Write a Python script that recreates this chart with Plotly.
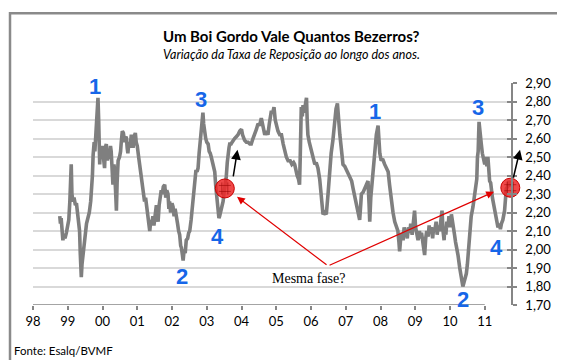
import plotly.graph_objects as go

# ---------------- data ----------------
anos = [
    1998.77, 1998.79, 1998.81, 1998.84, 1998.86, 1998.89, 1998.92, 1998.96, 1999.00, 1999.03,
    1999.06, 1999.08, 1999.10, 1999.12, 1999.15, 1999.18, 1999.22, 1999.25, 1999.28, 1999.31,
    1999.34, 1999.36, 1999.39, 1999.41, 1999.44, 1999.47, 1999.51, 1999.54, 1999.58, 1999.62,
    1999.66, 1999.68, 1999.71, 1999.73, 1999.76, 1999.78, 1999.81, 1999.84, 1999.87, 1999.89,
    1999.92, 1999.94, 1999.97, 1999.99, 2000.02, 2000.06, 2000.08, 2000.11, 2000.14, 2000.16,
    2000.20, 2000.23, 2000.25, 2000.28, 2000.30, 2000.33, 2000.35, 2000.38, 2000.40, 2000.42,
    2000.45, 2000.49, 2000.52, 2000.54, 2000.57, 2000.60, 2000.64, 2000.67, 2000.69, 2000.71,
    2000.73, 2000.76, 2000.79, 2000.83, 2000.86, 2000.88, 2000.91, 2000.945, 2000.97, 2001.00,
    2001.04, 2001.08, 2001.12, 2001.15, 2001.18, 2001.21, 2001.24, 2001.27, 2001.31, 2001.34,
    2001.36, 2001.39, 2001.42, 2001.45, 2001.48, 2001.51, 2001.55, 2001.58, 2001.60, 2001.63,
    2001.66, 2001.69, 2001.72, 2001.75, 2001.79, 2001.82, 2001.85, 2001.885, 2001.91, 2001.93,
    2001.96, 2002.00, 2002.03, 2002.06, 2002.09, 2002.125, 2002.16, 2002.19, 2002.22, 2002.25,
    2002.27, 2002.30, 2002.32, 2002.35, 2002.38, 2002.41, 2002.45, 2002.48, 2002.51, 2002.55,
    2002.58, 2002.60, 2002.63, 2002.65, 2002.69, 2002.72, 2002.75, 2002.78, 2002.80, 2002.83,
    2002.86, 2002.89, 2002.91, 2002.94, 2002.97, 2003.00, 2003.04, 2003.07, 2003.10, 2003.13,
    2003.17, 2003.20, 2003.23, 2003.26, 2003.28, 2003.30, 2003.32, 2003.35, 2003.37, 2003.40,
    2003.43, 2003.47, 2003.50, 2003.53, 2003.56, 2003.59, 2003.61, 2003.64, 2003.66, 2003.70,
    2003.73, 2003.755, 2003.80, 2003.85, 2003.90, 2003.95, 2004.00, 2004.03, 2004.06, 2004.09,
    2004.14, 2004.19, 2004.24, 2004.28, 2004.33, 2004.38, 2004.43, 2004.475, 2004.52, 2004.57,
    2004.60, 2004.64, 2004.67, 2004.72, 2004.76, 2004.80, 2004.86, 2004.90, 2004.935, 2004.97,
    2005.00, 2005.05, 2005.10, 2005.15, 2005.20, 2005.24, 2005.29, 2005.34, 2005.40, 2005.45,
    2005.50, 2005.53, 2005.57, 2005.60, 2005.64, 2005.67, 2005.69, 2005.70, 2005.72, 2005.75,
    2005.77, 2005.80, 2005.84, 2005.87, 2005.89, 2005.91, 2005.95, 2006.01, 2006.06, 2006.11,
    2006.15, 2006.20, 2006.25, 2006.30, 2006.33, 2006.345, 2006.39, 2006.44, 2006.49, 2006.54,
    2006.58, 2006.63, 2006.68, 2006.72, 2006.76, 2006.79, 2006.83, 2006.87, 2006.92, 2006.97,
    2007.02, 2007.07, 2007.12, 2007.17, 2007.21, 2007.26, 2007.31, 2007.36, 2007.40, 2007.43,
    2007.45, 2007.50, 2007.55, 2007.60, 2007.64, 2007.67, 2007.69, 2007.72, 2007.75, 2007.78,
    2007.82, 2007.86, 2007.88, 2007.93, 2007.95, 2007.98, 2008.02, 2008.06, 2008.12, 2008.17,
    2008.22, 2008.26, 2008.31, 2008.36, 2008.41, 2008.46, 2008.50, 2008.53, 2008.55, 2008.58,
    2008.62, 2008.65, 2008.68, 2008.71, 2008.74, 2008.77, 2008.80, 2008.84, 2008.87, 2008.91,
    2008.94, 2008.98, 2009.01, 2009.04, 2009.08, 2009.12, 2009.15, 2009.18, 2009.22, 2009.25,
    2009.27, 2009.30, 2009.33, 2009.37, 2009.40, 2009.43, 2009.46, 2009.50, 2009.53, 2009.56,
    2009.60, 2009.63, 2009.66, 2009.70, 2009.73, 2009.77, 2009.80, 2009.83, 2009.85, 2009.88,
    2009.91, 2009.94, 2009.97, 2010.00, 2010.04, 2010.07, 2010.10, 2010.13, 2010.16, 2010.20,
    2010.23, 2010.28, 2010.32, 2010.35, 2010.37, 2010.40, 2010.43, 2010.47, 2010.50, 2010.52,
    2010.55, 2010.57, 2010.61, 2010.66, 2010.71, 2010.74, 2010.77, 2010.79, 2010.81, 2010.835,
    2010.86, 2010.88, 2010.90, 2010.93, 2010.96, 2011.00, 2011.03, 2011.06, 2011.09, 2011.12,
    2011.14, 2011.17, 2011.19, 2011.22, 2011.26, 2011.29, 2011.33, 2011.38, 2011.42, 2011.45,
    2011.48, 2011.52, 2011.57, 2011.60, 2011.62, 2011.66, 2011.69, 2011.72, 2011.75,
]
taxa = [
    2.18, 2.14, 2.17, 2.10, 2.05, 2.08, 2.06, 2.09, 2.12, 2.16,
    2.26, 2.40, 2.46, 2.30, 2.26, 2.28, 2.24, 2.25, 2.20, 2.14,
    2.10, 1.98, 1.85, 1.92, 1.98, 2.02, 2.08, 2.14, 2.17, 2.20,
    2.26, 2.30, 2.40, 2.51, 2.58, 2.53, 2.62, 2.70, 2.82, 2.70,
    2.46, 2.56, 2.50, 2.56, 2.48, 2.44, 2.55, 2.57, 2.48, 2.53,
    2.49, 2.56, 2.53, 2.42, 2.35, 2.46, 2.42, 2.30, 2.21, 2.36,
    2.48, 2.50, 2.53, 2.58, 2.64, 2.63, 2.58, 2.61, 2.60, 2.55,
    2.52, 2.58, 2.55, 2.62, 2.58, 2.55, 2.61, 2.63, 2.58, 2.56,
    2.50, 2.45, 2.39, 2.34, 2.30, 2.26, 2.28, 2.22, 2.19, 2.13,
    2.10, 2.16, 2.14, 2.18, 2.13, 2.19, 2.24, 2.20, 2.15, 2.24,
    2.28, 2.32, 2.30, 2.34, 2.35, 2.28, 2.32, 2.30, 2.22, 2.26,
    2.20, 2.25, 2.23, 2.18, 2.22, 2.19, 2.14, 2.10, 2.08, 2.02,
    2.01, 1.97, 1.94, 2.00, 1.98, 2.05, 2.06, 2.09, 2.10, 2.16,
    2.22, 2.26, 2.36, 2.40, 2.43, 2.42, 2.44, 2.52, 2.60, 2.62,
    2.68, 2.74, 2.68, 2.62, 2.60, 2.58, 2.57, 2.53, 2.52, 2.50,
    2.46, 2.44, 2.42, 2.34, 2.30, 2.24, 2.19, 2.17, 2.18, 2.20,
    2.23, 2.26, 2.31, 2.35, 2.39, 2.47, 2.53, 2.55, 2.57, 2.57,
    2.58, 2.59, 2.60, 2.61, 2.62, 2.64, 2.65, 2.62, 2.60, 2.59,
    2.58, 2.58, 2.57, 2.57, 2.60, 2.62, 2.65, 2.68, 2.67, 2.71,
    2.68, 2.63, 2.62, 2.64, 2.62, 2.68, 2.75, 2.74, 2.77, 2.70,
    2.67, 2.64, 2.62, 2.62, 2.57, 2.53, 2.50, 2.48, 2.48, 2.46,
    2.47, 2.46, 2.42, 2.40, 2.38, 2.35, 2.50, 2.68, 2.77, 2.72,
    2.78, 2.74, 2.80, 2.82, 2.70, 2.62, 2.58, 2.53, 2.50, 2.46,
    2.47, 2.44, 2.38, 2.30, 2.22, 2.19, 2.20, 2.19, 2.30, 2.44,
    2.52, 2.59, 2.71, 2.76, 2.79, 2.70, 2.62, 2.55, 2.46, 2.45,
    2.43, 2.41, 2.40, 2.37, 2.33, 2.28, 2.23, 2.19, 2.16, 2.24,
    2.30, 2.31, 2.33, 2.35, 2.37, 2.25, 2.15, 2.28, 2.35, 2.41,
    2.48, 2.58, 2.62, 2.67, 2.58, 2.52, 2.48, 2.49, 2.46, 2.44,
    2.42, 2.35, 2.26, 2.20, 2.15, 2.12, 2.10, 2.04, 1.99, 2.06,
    2.09, 2.05, 2.12, 2.08, 2.10, 2.06, 2.12, 2.09, 2.14, 2.08,
    2.15, 2.21, 2.12, 2.08, 2.05, 2.10, 2.06, 2.09, 2.02, 1.99,
    1.97, 2.06, 2.10, 2.07, 2.13, 2.09, 2.12, 2.06, 2.12, 2.10,
    2.15, 2.08, 2.13, 2.10, 2.16, 2.21, 2.10, 2.05, 2.12, 2.08,
    2.15, 2.12, 2.18, 2.12, 2.19, 2.14, 2.12, 2.08, 2.04, 2.01,
    1.97, 1.90, 1.85, 1.82, 1.80, 1.82, 1.84, 1.87, 1.92, 1.97,
    2.05, 2.12, 2.18, 2.23, 2.30, 2.31, 2.38, 2.50, 2.53, 2.69,
    2.62, 2.58, 2.57, 2.52, 2.50, 2.46, 2.50, 2.45, 2.50, 2.42,
    2.37, 2.36, 2.30, 2.28, 2.24, 2.21, 2.16, 2.12, 2.14, 2.11,
    2.14, 2.16, 2.21, 2.28, 2.33, 2.34, 2.37, 2.36, 2.34,
]

# x-axis ticks (years) and labels
anos_ticks = list(range(1998, 2012))
rotulos_x = ["98", "99", "00", "01", "02", "03", "04", "05", "06", "07", "08", "09", "10", "11"]

# y-axis ticks and labels
valores_y = [1.70, 1.80, 1.90, 2.00, 2.10, 2.20, 2.30, 2.40, 2.50, 2.60, 2.70, 2.80, 2.90]
rotulos_y = ["1,70", "1,80", "1,90", "2,00", "2,10", "2,20", "2,30", "2,40", "2,50", "2,60", "2,70", "2,80", "2,90"]

# highlighted points ("Mesma fase?")
fase_x = [2003.52, 2011.735]
fase_y = [2.33, 2.334]

# cycle phase labels
fase_rotulos = ["1", "3", "4", "2", "1", "3", "4", "2"]
fase_rot_x = [1999.78, 2002.84, 2003.32, 2002.29, 2007.85, 2010.81, 2011.33, 2010.37]
fase_rot_y = [2.882, 2.810, 2.073, 1.852, 2.747, 2.769, 2.010, 1.731]

X0, X1 = 1998.0, 2011.755
Y0, Y1 = 1.70, 2.90

GRID = "#D9D9D9"
AXC = "#868686"
BLUE = "#1666E8"
FONT = "Lato"

fig = go.Figure()

fig.add_trace(go.Scatter(
    x=anos, y=taxa, mode="lines",
    line=dict(color="#7F7F7F", width=3.6),
    showlegend=False, hoverinfo="skip",
))

fig.add_trace(go.Scatter(
    x=fase_x, y=fase_y, mode="markers", cliponaxis=False,
    marker=dict(symbol="circle", size=19, color="rgba(236,40,40,0.85)",
                line=dict(color="#C80000", width=1)),
    showlegend=False, hoverinfo="skip",
))
fig.add_trace(go.Scatter(
    x=fase_x, y=fase_y, mode="markers", cliponaxis=False,
    marker=dict(symbol="hash-open", size=12, color="rgba(150,0,0,0.55)",
                line=dict(color="rgba(150,0,0,0.55)", width=1)),
    showlegend=False, hoverinfo="skip",
))
# invisible trace for the crossing ticks on the right axis
fig.add_trace(go.Scatter(x=[None], y=[None], yaxis="y2", showlegend=False, hoverinfo="skip"))


def px(x):
    return (x - X0) / (X1 - X0)


def py(y):
    return (y - Y0) / (Y1 - Y0)


annotations = []
# title / subtitle / source
annotations.append(dict(text="<b>Um Boi Gordo Vale Quantos Bezerros?</b>", xref="paper", yref="paper",
                        x=0.54, y=1.211, showarrow=False, xanchor="center", yanchor="middle",
                        font=dict(family=FONT, size=15, color="#000000")))
annotations.append(dict(text="<i>Variação da Taxa de Reposição ao longo dos anos.</i>", xref="paper", yref="paper",
                        x=0.54, y=1.128, showarrow=False, xanchor="center", yanchor="middle",
                        font=dict(family=FONT, size=12.5, color="#000000")))
annotations.append(dict(text="Fonte: Esalq/BVMF", xref="paper", yref="paper",
                        x=-0.044, y=-0.205, showarrow=False, xanchor="left", yanchor="middle",
                        font=dict(family=FONT, size=11.5, color="#000000")))

for t, xx, yy in zip(fase_rotulos, fase_rot_x, fase_rot_y):
    annotations.append(dict(text="<b>" + t + "</b>", x=xx, y=yy, xref="x", yref="y",
                            showarrow=False, xanchor="center", yanchor="middle",
                            font=dict(family="Liberation Sans", size=22, color=BLUE)))

# "Mesma fase?" label and red arrows
vert_x, vert_y = 2006.49, 1.911
annotations.append(dict(text="Mesma fase?", x=2005.94, y=1.843, xref="x", yref="y",
                        showarrow=False, xanchor="center", yanchor="middle",
                        font=dict(family="Liberation Serif", size=14, color="#000000")))
for tx, ty in [(2003.87, 2.285), (2011.266, 2.312)]:
    annotations.append(dict(text="", x=tx, y=ty, xref="x", yref="y",
                            ax=vert_x, ay=vert_y, axref="x", ayref="y",
                            showarrow=True, arrowhead=2, arrowsize=1.3, arrowwidth=1.2,
                            arrowcolor="#E00000", standoff=0))

# small black arrows
for (tx, ty, ox, oy) in [(2003.885, 2.539, -4.5, 28), (2012.014, 2.539, -7, 29.5)]:
    annotations.append(dict(text="", x=px(tx), y=py(ty), xref="paper", yref="paper",
                            ax=ox, ay=oy, showarrow=True, arrowhead=2, arrowsize=1.3,
                            arrowwidth=1.5, arrowcolor="#000000", standoff=0))

shapes = [
    # x-axis line (only up to 2011)
    dict(type="line", xref="x", yref="y", x0=1998, x1=2011, y0=Y0, y1=Y0,
         line=dict(color=AXC, width=1.5), layer="above"),
    # outer frame
    dict(type="rect", xref="paper", yref="paper", x0=-0.0481, x1=1.1234, y0=-0.2629, y1=1.3146,
         line=dict(color="#8A8A8A", width=2.5), fillcolor="rgba(0,0,0,0)", layer="above"),
]

fig.update_layout(
    width=565, height=360,
    margin=dict(l=25, r=62, t=75, b=62.5),
    paper_bgcolor="white", plot_bgcolor="white",
    showlegend=False,
    xaxis=dict(range=[X0, X1], tickvals=anos_ticks, ticktext=rotulos_x,
               showgrid=False, zeroline=False, showline=False,
               ticks="outside", ticklen=4, tickwidth=1.5, tickcolor=AXC,
               tickfont=dict(family=FONT, size=13, color="#000000")),
    yaxis=dict(range=[Y0, Y1], side="right", tickvals=valores_y, ticktext=rotulos_y,
               showgrid=True, gridcolor=GRID, gridwidth=2, zeroline=False,
               showline=True, linecolor=AXC, linewidth=1.5,
               ticks="outside", ticklen=4, tickwidth=1.5, tickcolor=AXC,
               ticklabelstandoff=6,
               tickfont=dict(family=FONT, size=13, color="#000000")),
    yaxis2=dict(range=[Y0, Y1], side="right", overlaying="y", tickvals=valores_y,
                showgrid=False, zeroline=False, showline=False, showticklabels=False,
                ticks="inside", ticklen=4, tickwidth=1.5, tickcolor=AXC),
    annotations=annotations,
    shapes=shapes,
)

fig.write_html("out.html")
